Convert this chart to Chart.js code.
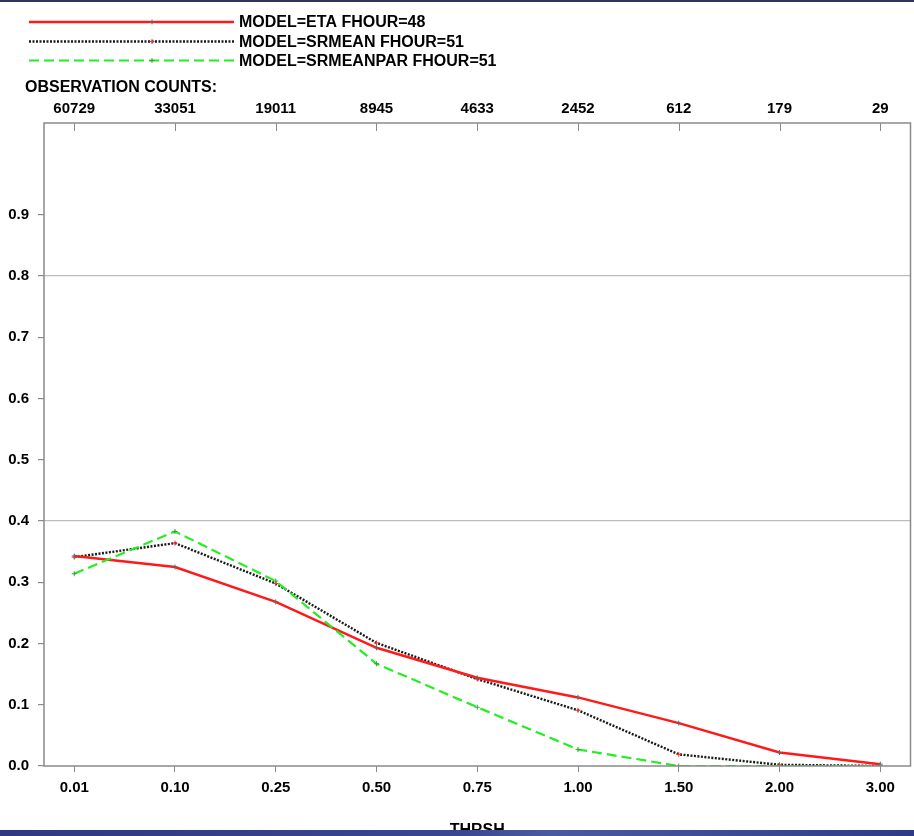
<!DOCTYPE html>
<html>
<head>
<meta charset="utf-8">
<title>THRSH</title>
<script src="https://cdn.jsdelivr.net/npm/chart.js@4.4.1/dist/chart.umd.min.js"></script>
<style>
  html, body { margin: 0; padding: 0; background: #fff; }
  canvas { display: block; }
</style>
</head>
<body>
<canvas id="thrshChart" width="914" height="836"></canvas>
<script>
// values
const thresholds = ['0.01', '0.10', '0.25', '0.50', '0.75', '1.00', '1.50', '2.00', '3.00'];
const obsCounts = ['60729', '33051', '19011', '8945', '4633', '2452', '612', '179', '29'];
const etaValues = [0.343, 0.325, 0.268, 0.193, 0.144, 0.112, 0.070, 0.022, 0.003];
const srmeanValues = [0.341, 0.364, 0.298, 0.201, 0.142, 0.091, 0.019, 0.002, 0.0];
const srmeanparValues = [0.314, 0.383, 0.302, 0.167, 0.096, 0.027, 0.0, 0.0, 0.0];
const yTicks = [0, 0.1, 0.2, 0.3, 0.4, 0.5, 0.6, 0.7, 0.8, 0.9];
const gridValues = [0.4, 0.8];

const FONT = '"Liberation Sans", Arial, Helvetica, sans-serif';
const series = [
  { label: 'MODEL=ETA FHOUR=48', data: etaValues, color: '#ff1a1a', width: 2.5, dash: [], mark: '#666', order: 1 },
  { label: 'MODEL=SRMEAN FHOUR=51', data: srmeanValues, color: '#1a1a1a', width: 2.4, dash: [2, 1.5], mark: '#ff3030', order: 2 },
  { label: 'MODEL=SRMEANPAR FHOUR=51', data: srmeanparValues, color: '#22ee22', width: 2.2, dash: [10, 5], mark: '#3aa03a', order: 0 }
];

const toPoints = arr => arr.map((v, i) => ({ x: i, y: v }));
const indexTicks = scale => { scale.ticks = thresholds.map((t, i) => ({ value: i })); };

// frame, inward top ticks, legend, header and the dark bands
const decorPlugin = {
  id: 'decor',
  beforeDraw(chart) {
    const ctx = chart.ctx;
    ctx.save();
    ctx.fillStyle = '#ffffff';
    ctx.fillRect(0, 0, chart.width, chart.height);
    ctx.restore();
  },
  afterDraw(chart) {
    const ctx = chart.ctx;
    const a = chart.chartArea;
    const xs = chart.scales.x;
    ctx.save();
    ctx.strokeStyle = '#8a8a8a';
    ctx.lineWidth = 1.5;
    ctx.strokeRect(a.left, a.top, a.right - a.left, a.bottom - a.top);
    ctx.lineWidth = 1;
    ctx.beginPath();
    thresholds.forEach((t, i) => {
      const px = Math.round(xs.getPixelForValue(i)) + 0.5;
      ctx.moveTo(px, a.top);
      ctx.lineTo(px, a.top + 8);
    });
    ctx.stroke();

    // legend
    ctx.font = 'bold 16px ' + FONT;
    ctx.textBaseline = 'middle';
    ctx.fillStyle = '#000';
    const rows = [22, 41.5, 60.5];
    series.forEach((s, k) => {
      const y = rows[k];
      ctx.strokeStyle = s.color;
      ctx.lineWidth = s.width;
      ctx.setLineDash(s.dash);
      ctx.beginPath();
      ctx.moveTo(29, y);
      ctx.lineTo(234, y);
      ctx.stroke();
      ctx.setLineDash([]);
      ctx.strokeStyle = s.mark;
      ctx.lineWidth = 1;
      ctx.beginPath();
      ctx.moveTo(149.5, y); ctx.lineTo(154.5, y);
      ctx.moveTo(152, y - 2.5); ctx.lineTo(152, y + 2.5);
      ctx.stroke();
      ctx.fillText(s.label, 239, y + 1);
    });
    ctx.fillText('OBSERVATION COUNTS:', 25, 88);

    // bands
    ctx.fillStyle = '#34355c';
    ctx.fillRect(0, 0, chart.width, 2);
    const g = ctx.createLinearGradient(0, 0, chart.width, 0);
    g.addColorStop(0, '#2f3880');
    g.addColorStop(0.5, '#3a4690');
    g.addColorStop(0.6, '#4a5aa0');
    g.addColorStop(1, '#2f3a86');
    ctx.fillStyle = g;
    ctx.fillRect(0, 830, chart.width, chart.height - 830);
    ctx.restore();
  }
};

new Chart(document.getElementById('thrshChart').getContext('2d'), {
  type: 'line',
  data: {
    datasets: series.map(s => ({
      label: s.label,
      data: toPoints(s.data),
      borderColor: s.color,
      borderWidth: s.width,
      borderDash: s.dash,
      pointStyle: 'cross',
      pointRadius: 2.5,
      pointBorderWidth: 1,
      pointBorderColor: s.mark,
      pointHoverRadius: 0,
      tension: 0,
      fill: false,
      order: s.order
    }))
  },
  options: {
    responsive: false,
    animation: false,
    events: [],
    layout: { padding: { left: 0, right: 3, top: 0, bottom: 0 } },
    plugins: { legend: { display: false }, tooltip: { enabled: false } },
    scales: {
      x: {
        type: 'linear',
        position: 'bottom',
        min: -0.3,
        max: 8.3,
        afterBuildTicks: indexTicks,
        afterFit: scale => { scale.height = 70; },
        border: { display: false },
        grid: { drawOnChartArea: false, drawTicks: true, tickLength: 6, tickColor: '#8a8a8a' },
        ticks: {
          callback: v => thresholds[v],
          color: '#000',
          font: { family: FONT, size: 15, weight: 'bold' },
          padding: 7,
          maxRotation: 0,
          autoSkip: false
        },
        title: {
          display: true,
          text: 'THRSH',
          color: '#000',
          font: { family: FONT, size: 16, weight: 'bold' },
          padding: { top: 0, bottom: -4 }
        }
      },
      xTop: {
        type: 'linear',
        position: 'top',
        min: -0.3,
        max: 8.3,
        afterBuildTicks: indexTicks,
        afterFit: scale => { scale.height = 123; },
        border: { display: false },
        grid: { drawOnChartArea: false, drawTicks: false },
        ticks: {
          callback: v => obsCounts[v],
          color: '#000',
          font: { family: FONT, size: 15, weight: 'bold' },
          padding: 5,
          maxRotation: 0,
          autoSkip: false
        }
      },
      y: {
        type: 'linear',
        min: 0,
        max: 1.05,
        afterBuildTicks: scale => { scale.ticks = yTicks.map(v => ({ value: v })); },
        afterFit: scale => { scale.width = 44; },
        border: { display: false },
        grid: {
          color: c => gridValues.some(g => Math.abs(g - c.tick.value) < 1e-6) ? '#bdbdbd' : 'rgba(0,0,0,0)',
          lineWidth: 1.2,
          drawTicks: true,
          tickLength: 6,
          tickColor: '#8a8a8a'
        },
        ticks: {
          callback: v => v.toFixed(1),
          color: '#000',
          font: { family: FONT, size: 15, weight: 'bold' },
          padding: 9
        }
      }
    }
  },
  plugins: [decorPlugin]
});
</script>
</body>
</html>
